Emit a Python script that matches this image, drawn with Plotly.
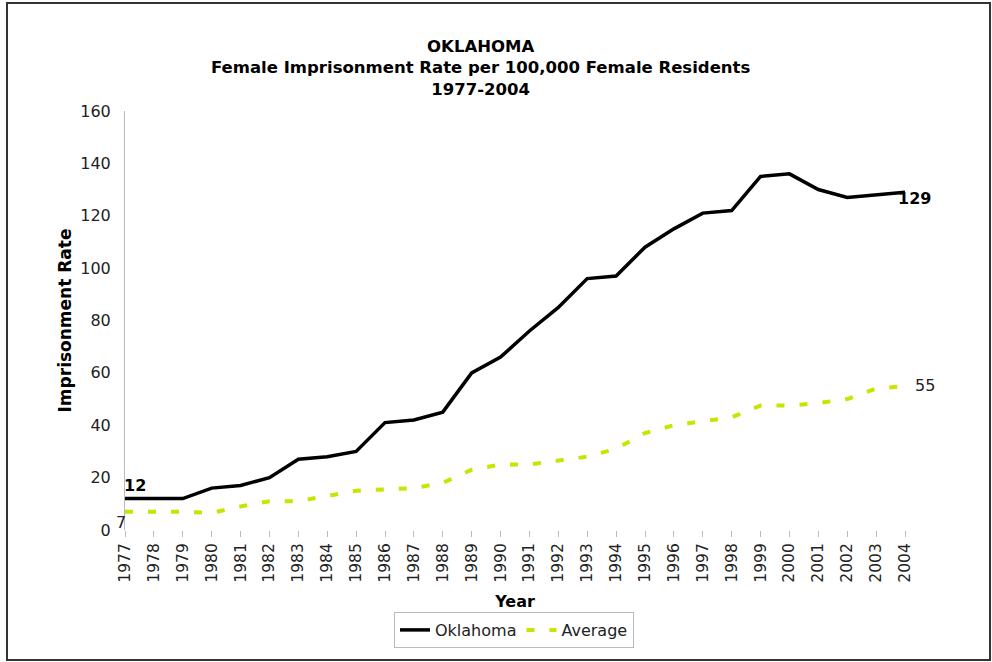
import plotly.graph_objects as go

years = list(range(1977, 2005))
oklahoma = [12, 12, 12, 16, 17, 20, 27, 28, 30, 41, 42, 45, 60, 66, 76, 85,
            96, 97, 108, 115, 121, 122, 135, 136, 130, 127, 128, 129]
average = [7, 7, 7, 6.5, 9, 11, 11, 13, 15, 15.5, 16, 18, 23, 25, 25, 26.5,
           28, 31, 37, 40, 41.5, 43, 47.5, 47.5, 48.5, 50, 54, 55]
y_ticks = [0, 20, 40, 60, 80, 100, 120, 140, 160]

W, H = 992, 662
ML, MR, MT, MB = 125, 87, 111, 132
PW, PH = W - ML - MR, H - MT - MB

def px(x):
    return (x - ML) / PW

def py(y):
    return (H - MB - y) / PH

FONT = "DejaVu Sans"

fig = go.Figure()
fig.add_trace(go.Scatter(x=years, y=oklahoma, mode="lines", name="Oklahoma",
                         line=dict(color="black", width=3.5), cliponaxis=False))
fig.add_trace(go.Scatter(x=years, y=average, mode="lines", name="Average",
                         line=dict(color="#c8e400", width=4, dash="8px,15px"),
                         cliponaxis=False))

annotations = [
    dict(x=years[0], y=oklahoma[0], text="<b>12</b>", showarrow=False,
         xanchor="left", yanchor="bottom", xshift=-3, yshift=2,
         font=dict(family=FONT, size=16, color="black")),
    dict(x=years[0], y=average[0], text="7", showarrow=False,
         xanchor="right", yanchor="top", xshift=3, yshift=1,
         font=dict(family=FONT, size=16, color="#222")),
    dict(x=years[-1], y=oklahoma[-1], text="<b>129</b>", showarrow=False,
         xanchor="left", yanchor="middle", xshift=-9, yshift=-6,
         font=dict(family=FONT, size=16, color="black")),
    dict(x=years[-1], y=average[-1], text="55", showarrow=False,
         xanchor="left", yanchor="middle", xshift=8, yshift=0,
         font=dict(family=FONT, size=16, color="#222")),
    dict(xref="paper", yref="paper", x=px(480), y=py(35), xanchor="center", yanchor="top",
         text="<b>OKLAHOMA</b><br><b>Female Imprisonment Rate per 100,000 Female Residents</b><br><b>1977-2004</b>",
         showarrow=False, font=dict(family=FONT, size=16.5, color="black"),
         align="center"),
]

fig.update_layout(
    width=W, height=H,
    margin=dict(l=ML, r=MR, t=MT, b=MB),
    paper_bgcolor="white", plot_bgcolor="white",
    font=dict(family=FONT, size=16, color="#222"),
    showlegend=True,
    legend=dict(orientation="h", x=px(514), xanchor="center", y=py(612), yanchor="top",
                bordercolor="#bbbbbb", borderwidth=1, font=dict(family=FONT, size=16, color="#222"),
                tracegroupgap=0),
    annotations=annotations,
    shapes=[dict(type="rect", xref="paper", yref="paper",
                 x0=px(7), x1=px(990), y0=py(660), y1=py(3),
                 line=dict(color="#333333", width=2), fillcolor="rgba(0,0,0,0)", layer="below")],
    xaxis=dict(range=[1977, 2004], tickmode="array", tickvals=years,
               ticktext=[str(y) for y in years], tickangle=-90,
               showgrid=False, zeroline=False, showline=False,
               ticks="outside", ticklen=6, tickcolor="#bbbbbb",
               title=dict(text="<b>Year</b>", font=dict(family=FONT, size=16, color="black"), standoff=14),
               tickfont=dict(family=FONT, size=15.5, color="#222")),
    yaxis=dict(range=[0, 160], tickmode="array", tickvals=y_ticks,
               showgrid=False, zeroline=False, showline=True, linecolor="#bbbbbb", linewidth=1,
               ticks="", ticklabelstandoff=10,
               title=dict(text="<b>Imprisonment Rate</b>", font=dict(family=FONT, size=17, color="black"), standoff=4),
               tickfont=dict(family=FONT, size=16, color="#222")),
)

fig.write_html("out.html", config={"displayModeBar": False},
               post_script="document.body.style.margin='0';")
